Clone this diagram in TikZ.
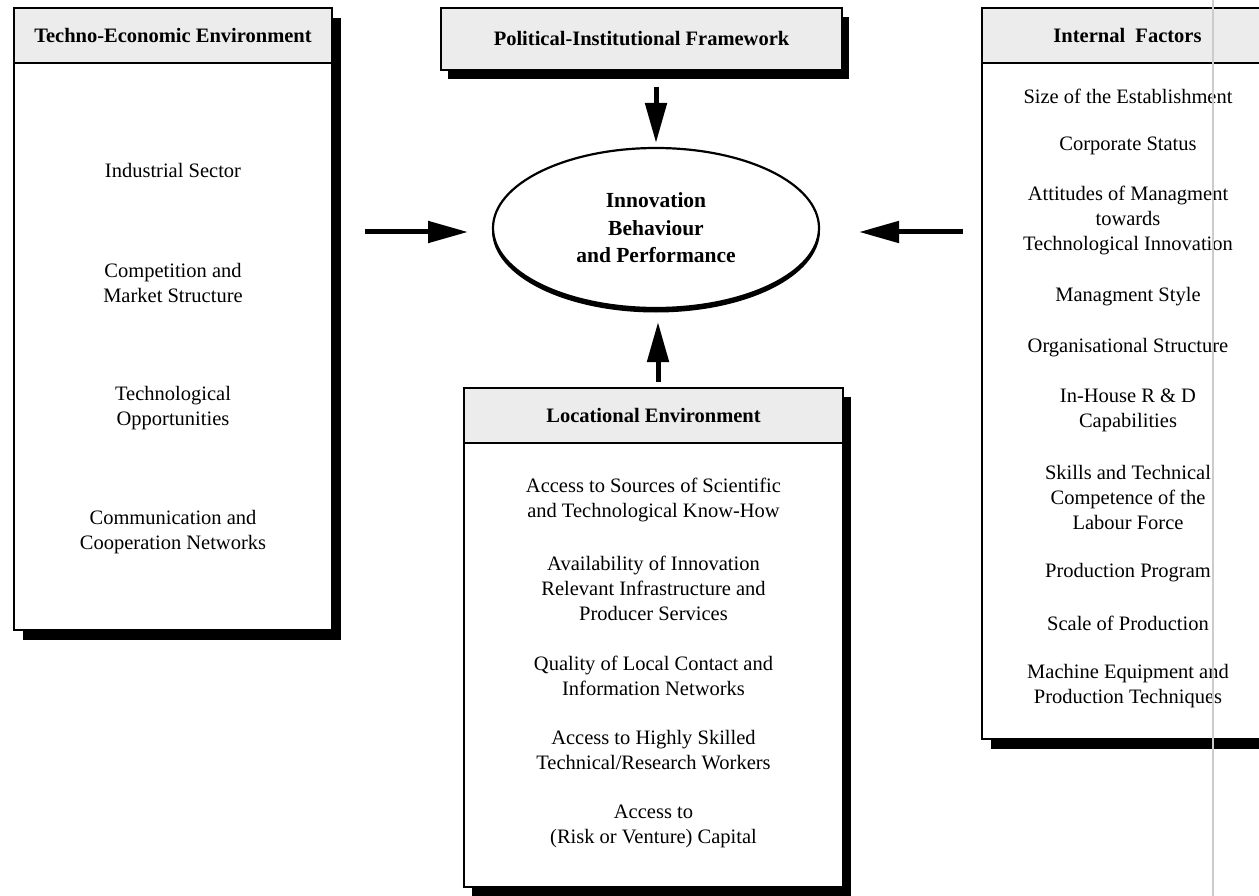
\documentclass[tikz,border=0pt]{standalone}
\usepackage{fontspec}
\setmainfont{Liberation Serif}
\usetikzlibrary{shapes.geometric,shadows,arrows.meta}
\begin{document}
\begin{tikzpicture}[x=1pt,y=-1pt,
  boxbody/.style={draw, line width=2.5pt, fill=white, inner sep=0pt, anchor=center},
  boxhead/.style={draw, line width=2.5pt, fill=gray!15, inner sep=0pt, anchor=center,
    font=\fontsize{20.5}{25}\selectfont\bfseries},
  shad/.style={drop shadow={shadow xshift=9pt, shadow yshift=-10pt, fill=black, opacity=1}},
  item/.style={align=center, inner sep=0pt, font=\fontsize{20.5}{25}\selectfont},
  bigarrow/.style={line width=5pt, -{Triangle[length=40pt,width=21pt]}}
]
\useasboundingbox (0,0) rectangle (1259,896);
\clip (0,0) rectangle (1259,896);

% Techno-Economic Environment
\node[boxbody, shad, minimum width=318pt, minimum height=622pt] (te) at (173,319) {};
\node[boxhead, minimum width=318pt, minimum height=55pt] (teh) at (173,35.5) {Techno-Economic Environment};
\node[item] (te1) at (173,170) {Industrial Sector};
\node[item] (te2) at (173,283) {Competition and\\Market Structure};
\node[item] (te3) at (173,408) {Technological\\Opportunities};
\node[item] (te4) at (173,532) {Communication and\\Cooperation Networks};

% Political-Institutional Framework
\node[boxhead, drop shadow={shadow xshift=7pt, shadow yshift=-9pt, fill=black, opacity=1},
  minimum width=401pt, minimum height=62pt] (pif) at (641.5,39) {Political-Institutional Framework};

% Internal Factors
\node[boxbody, shad, minimum width=291pt, minimum height=731pt] (inf) at (1127.5,373.5) {};
\node[boxhead, minimum width=291pt, minimum height=55pt] (infh) at (1127.5,35.5) {Internal~~Factors};
\node[item] (i1) at (1128,96) {Size of the Establishment};
\node[item] (i2) at (1128,146) {Corporate Status};
\node[item] (i3) at (1128,220) {Attitudes of Managment\\towards\\Technological Innovation};
\node[item] (i4) at (1128,297) {Managment Style};
\node[item] (i5) at (1128,348) {Organisational Structure};
\node[item] (i6) at (1128,410) {In-House R \& D\\Capabilities};
\node[item] (i7) at (1128,497) {Skills and Technical\\Competence of the\\Labour Force};
\node[item] (i8) at (1128,573) {Production Program};
\node[item] (i9) at (1128,623) {Scale of Production};
\node[item] (i10) at (1128,686) {Machine Equipment and\\Production Techniques};

% Locational Environment
\node[boxbody, drop shadow={shadow xshift=8pt, shadow yshift=-9pt, fill=black, opacity=1},
  minimum width=379pt, minimum height=499pt] (loc) at (653.5,637.5) {};
\node[boxhead, minimum width=379pt, minimum height=55pt] (loch) at (653.5,415.5) {Locational Environment};
\node[item] (l1) at (653.5,500) {Access to Sources of Scientific\\and Technological Know-How};
\node[item] (l2) at (653.5,588) {Availability of Innovation\\Relevant Infrastructure and\\Producer Services};
\node[item] (l3) at (653.5,675.5) {Quality of Local Contact and\\Information Networks};
\node[item] (l4) at (653.5,750.5) {Access to Highly Skilled\\Technical/Research Workers};
\node[item] (l5) at (653.5,826.5) {Access to\\(Risk or Venture) Capital};

% Central ellipse with slight shadow at the bottom
\draw[line width=4pt] (656,230.5) ellipse [x radius=162pt, y radius=80pt];
\node[ellipse, draw, line width=2.2pt, fill=white, minimum width=326pt, minimum height=160pt,
  inner sep=0pt, align=center, font=\fontsize{21.5}{27.5}\selectfont\bfseries] (ib) at (656,228)
  {Innovation\\Behaviour\\and Performance};

% Arrow end points
\coordinate (aLs) at (365,232);
\coordinate (aLt) at (468,232);
\coordinate (aRs) at (963,232);
\coordinate (aRt) at (859,232);
\coordinate (aTs) at (656,87);
\coordinate (aTt) at (656,143);
\coordinate (aBs) at (658,382);
\coordinate (aBt) at (658,322);

\draw[bigarrow] (aLs) -- (aLt);
\draw[bigarrow] (aRs) -- (aRt);
\draw[bigarrow] (aTs) -- (aTt);
\draw[bigarrow] (aBs) -- (aBt);

% faint vertical scan line
\draw[gray!40, line width=1.5pt] (1213,0) -- (1213,896);
\end{tikzpicture}
\end{document}
